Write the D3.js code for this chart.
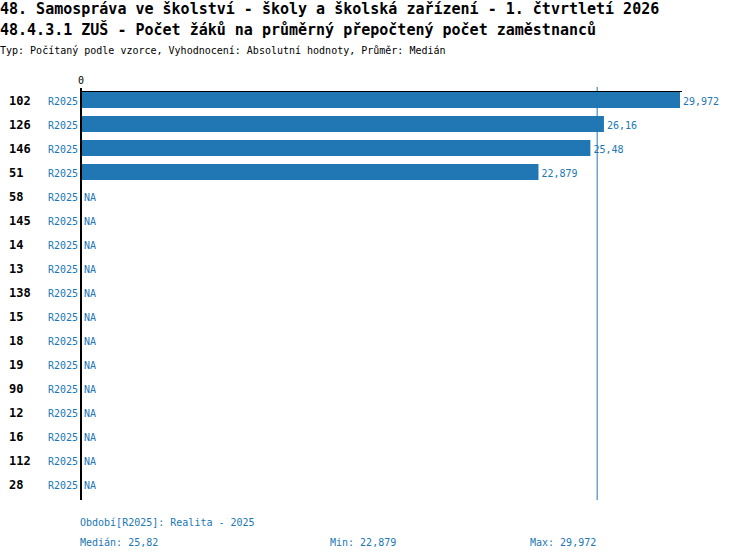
<!DOCTYPE html>
<html>
<head>
<meta charset="utf-8">
<script src="https://cdn.jsdelivr.net/npm/d3@7"></script>
<style>
  body { margin: 0; background: #fff; }
  text { font-family: "DejaVu Sans Mono", monospace; }
</style>
</head>
<body>
<div id="chart"></div>
<script>
// data
var categories = ["102", "126", "146", "51", "58", "145", "14", "13", "138", "15", "18", "19", "90", "12", "16", "112", "28"];
var period = "R2025";
var values = [29.972, 26.16, 25.48, 22.879, null, null, null, null, null, null, null, null, null, null, null, null, null];
var median = 25.82, minVal = 22.879, maxVal = 29.972;

var titles = [
  "48. Samospráva ve školství - školy a školská zařízení - 1. čtvrtletí 2026",
  "48.4.3.1 ZUŠ - Počet žáků na průměrný přepočtený počet zaměstnanců"
];
var subtitle = "Typ: Počítaný podle vzorce, Vyhodnocení: Absolutní hodnoty, Průměr: Medián";
var periodNote = "Období[R2025]: Realita - 2025";

var blue = "#2077b4";
var width = 750, height = 560;

var svg = d3.select("#chart")
  .append("svg")
  .attr("width", width)
  .attr("height", height);

// comma as decimal separator
var fmt = function(v) { return String(+v.toFixed(3)).replace(".", ","); };

svg.append("text").attr("x", 0).attr("y", 14)
  .attr("font-size", "15px").attr("font-weight", "bold").text(titles[0]);
svg.append("text").attr("x", 0).attr("y", 35)
  .attr("font-size", "15px").attr("font-weight", "bold").text(titles[1]);
svg.append("text").attr("x", 0).attr("y", 54)
  .attr("font-size", "10px").text(subtitle);

var x = d3.scaleLinear().domain([0, maxVal]).range([82, 680]);
var y = d3.scaleBand().domain(categories).range([88, 496]).paddingInner(0.333).paddingOuter(0.167);
var mid = function(d) { return y(d) + y.bandwidth() / 2 + 5; };

// rows
var rows = svg.selectAll(".row")
  .data(categories)
  .enter().append("g")
  .attr("class", "row");

rows.append("text")
  .attr("x", 9)
  .attr("y", mid)
  .attr("font-size", "12px")
  .attr("font-weight", "bold")
  .text(function(d) { return d; });

rows.append("text")
  .attr("x", 78)
  .attr("y", mid)
  .attr("text-anchor", "end")
  .attr("font-size", "10px")
  .attr("fill", blue)
  .text(period);

// bars
svg.selectAll(".bar")
  .data(categories.filter(function(d, i) { return values[i] != null; }))
  .enter().append("rect")
  .attr("class", "bar")
  .attr("x", x(0))
  .attr("y", function(d) { return y(d); })
  .attr("width", function(d) { return x(values[categories.indexOf(d)]) - x(0); })
  .attr("height", y.bandwidth())
  .attr("fill", blue);

// value / NA labels
svg.selectAll(".val")
  .data(categories)
  .enter().append("text")
  .attr("class", "val")
  .attr("x", function(d, i) { return values[i] == null ? x(0) + 2 : x(values[i]) + 3; })
  .attr("y", mid)
  .attr("font-size", "10px")
  .attr("fill", blue)
  .text(function(d, i) { return values[i] == null ? "NA" : fmt(values[i]); });

// median line
svg.append("line")
  .attr("x1", x(median)).attr("x2", x(median))
  .attr("y1", 87).attr("y2", 500)
  .attr("stroke", blue).attr("stroke-width", 1);

// axes
svg.append("line")
  .attr("x1", 80).attr("x2", 682)
  .attr("y1", 91.5).attr("y2", 91.5)
  .attr("stroke", "#000").attr("stroke-width", 1);
svg.append("line")
  .attr("x1", 81).attr("x2", 81)
  .attr("y1", 88).attr("y2", 500)
  .attr("stroke", "#000").attr("stroke-width", 2);
svg.append("text")
  .attr("x", 81).attr("y", 84)
  .attr("text-anchor", "middle")
  .attr("font-size", "10px")
  .text("0");

// footer
svg.append("text").attr("x", 80).attr("y", 526)
  .attr("font-size", "10px").attr("fill", blue).text(periodNote);
svg.append("text").attr("x", 80).attr("y", 546)
  .attr("font-size", "10px").attr("fill", blue).text("Medián: " + fmt(median));
svg.append("text").attr("x", 330).attr("y", 546)
  .attr("font-size", "10px").attr("fill", blue).text("Min: " + fmt(minVal));
svg.append("text").attr("x", 530).attr("y", 546)
  .attr("font-size", "10px").attr("fill", blue).text("Max: " + fmt(maxVal));
</script>
</body>
</html>
